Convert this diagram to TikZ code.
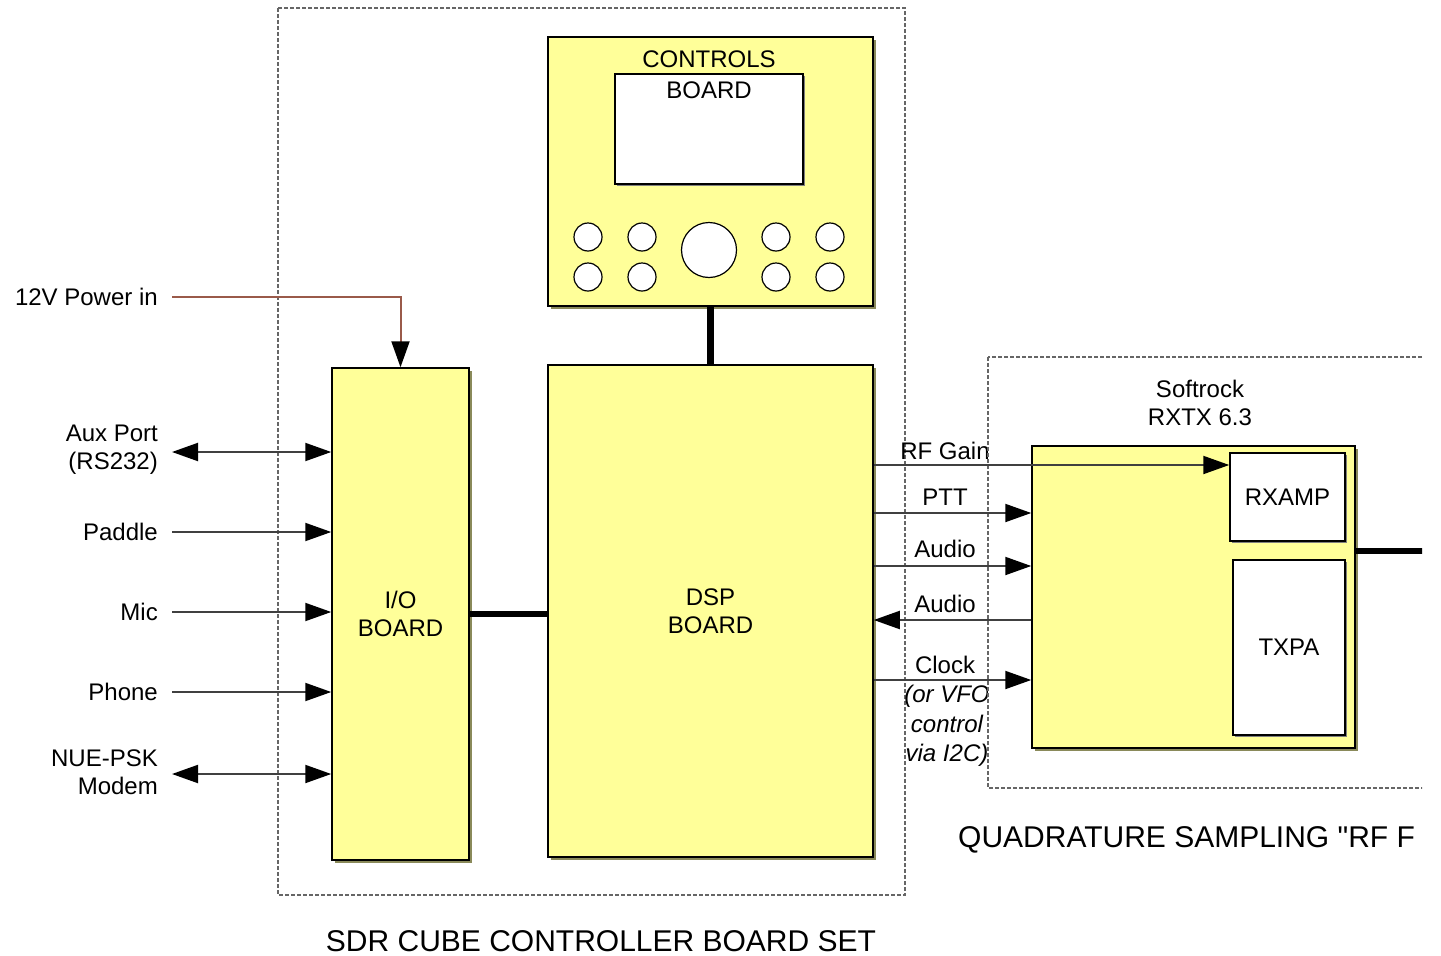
\documentclass[tikz,border=0pt]{standalone}
\usepackage{fontspec}
\setmainfont{Liberation Sans}
\newfontfamily\plainsans{Liberation Sans}
\usetikzlibrary{arrows.meta,shadows}
\definecolor{byel}{HTML}{FFFF99}
\definecolor{bshadow}{HTML}{8A8A5A}
\definecolor{pwrcol}{HTML}{9A5A4A}
\definecolor{dline}{HTML}{666666}
\begin{document}
\begin{tikzpicture}[x=1pt,y=-1pt,
  board/.style={draw=black, fill=byel, line width=1.5pt, inner sep=0pt, general shadow={fill=bshadow, shadow xshift=3pt, shadow yshift=-3pt}},
  screen/.style={draw=black, fill=white, line width=1.5pt, inner sep=0pt, general shadow={fill=gray, shadow xshift=2pt, shadow yshift=-2pt}},
  knob/.style={circle, draw=black, fill=white, line width=1.2pt, inner sep=0pt},
  lbl/.style={font=\fontsize{24}{28}\selectfont, inner sep=0pt, align=right},
  ttl/.style={font=\fontsize{30}{34}\selectfont, inner sep=0pt},
  dashframe/.style={draw=dline, line width=1.2pt, dash pattern=on 4pt off 2pt},
  sig/.style={line width=2pt, draw=black!75},
  sigarrow/.style={-{Triangle[length=26pt,width=18pt,color=black]}},
  sigback/.style={{Triangle[length=26pt,width=18pt,color=black]}-},
  sigdouble/.style={{Triangle[length=26pt,width=18pt,color=black]}-{Triangle[length=26pt,width=18pt,color=black]}},
  bus/.style={line width=6pt, draw=black},
]
\useasboundingbox (0,0) rectangle (1441,956);
\begin{scope}
\clip (0,0) rectangle (1422,956);

% SDR cube frame
\draw[dashframe] (278,8) rectangle (905,895);

% Controls board
\node[board, minimum width=325pt, minimum height=269pt] (ctrl) at (710.5,171.5) {};
\node[screen, minimum width=188pt, minimum height=110pt] (lcd) at (709,129) {};
\node[lbl] (ctrltxt) at (709,59) {CONTROLS};
\node[lbl] (ctrltxt2) at (709,90) {BOARD};
\foreach \x/\y [count=\i] in {588/237,642/237,776/237,830/237,588/277,642/277,776/277,830/277}
  \node[knob, minimum size=28pt] (k\i) at (\x,\y) {};
\node[knob, minimum size=55pt] (bigknob) at (709,250) {};

% I/O and DSP boards
\node[board, lbl, align=center, minimum width=137pt, minimum height=492pt] (io) at (400.5,614) {I/O\\BOARD};
\node[board, lbl, align=center, minimum width=325pt, minimum height=492pt] (dsp) at (710.5,611) {DSP\\BOARD};

\draw[line width=7pt] (ctrl.south) -- (dsp.north);
\draw[bus] (io.east) -- (dsp.west |- io.east);

% Left inputs
\node[lbl, anchor=east] (pwr) at (158,297) {12V Power in};
\draw[line width=2pt, draw=pwrcol, sigarrow] ([xshift=14pt]pwr.east) -| (io.north);
\node[lbl, anchor=east] (aux) at (158,450) {Aux Port\\(RS232)};
\coordinate (yaux) at (0,452);
\draw[sig, sigdouble] ([xshift=14pt]aux.east |- yaux) -- (io.west |- yaux);
\node[lbl, anchor=east] (paddle) at (158,532) {Paddle};
\draw[sig, sigarrow] ([xshift=14pt]paddle.east) -- (io.west |- paddle.east);
\node[lbl, anchor=east] (mic) at (158,612) {Mic};
\coordinate (ymic) at (0,612);
\draw[sig, sigarrow] ([xshift=14pt]paddle.east |- ymic) -- (io.west |- ymic);
\node[lbl, anchor=east] (phone) at (158,692) {Phone};
\draw[sig, sigarrow] ([xshift=14pt]phone.east) -- (io.west |- phone.east);
\node[lbl, anchor=east] (modem) at (158,772) {NUE-PSK\\Modem};
\coordinate (ymodem) at (0,774);
\draw[sig, sigdouble] ([xshift=14pt]modem.east |- ymodem) -- (io.west |- ymodem);

% Right-side labels
\node[lbl] (lrf) at (945,451) {RF Gain};
\node[lbl] (lptt) at (945,497) {PTT};
\node[lbl] (laud1) at (945,549) {Audio};
\node[lbl] (laud2) at (945,604) {Audio};
\node[lbl] (lclk) at (945,665) {Clock};
\node[lbl, align=center, font=\fontsize{24}{29.5}\selectfont\itshape] (lvfo) at (947,726) {(or VFO\\control\\via I2C)};

% Softrock frame
\draw[dashframe, fill=white] (988,357) rectangle (1500,788);
\node[lbl, align=center] (srlbl) at (1200,403) {Softrock\\RXTX 6.3};
\node[board, minimum width=323pt, minimum height=302pt] (sr) at (1193.5,597) {};
\node[screen, lbl, minimum width=115pt, minimum height=88pt] (rxamp) at (1287.5,497) {RXAMP};
\node[screen, lbl, minimum width=112pt, minimum height=175pt] (txpa) at (1289,647.5) {TXPA};

% Signals
\coordinate (yrf) at (0,465);
\coordinate (yptt) at (0,513);
\coordinate (ya1) at (0,566);
\coordinate (ya2) at (0,620);
\coordinate (yclk) at (0,680);
\coordinate (yout) at (0,551);
\coordinate (outend) at (1440,551);
\draw[sig, sigarrow] (dsp.east |- yrf) -- (rxamp.west |- yrf);
\draw[sig, sigarrow] (dsp.east |- yptt) -- (sr.west |- yptt);
\draw[sig, sigarrow] (dsp.east |- ya1) -- (sr.west |- ya1);
\draw[sig, sigback] (dsp.east |- ya2) -- (sr.west |- ya2);
\draw[sig, sigarrow] (dsp.east |- yclk) -- (sr.west |- yclk);
\draw[bus] (sr.east |- yout) -- (outend);

% Titles
\node[ttl] (t1) at (601,941) {SDR CUBE CONTROLLER BOARD SET};
\node[ttl, anchor=west, font=\fontsize{30}{34}\plainsans] (t2) at (958,840) {QUADRATURE SAMPLING "RF F};
\end{scope}
\end{tikzpicture}
\end{document}
